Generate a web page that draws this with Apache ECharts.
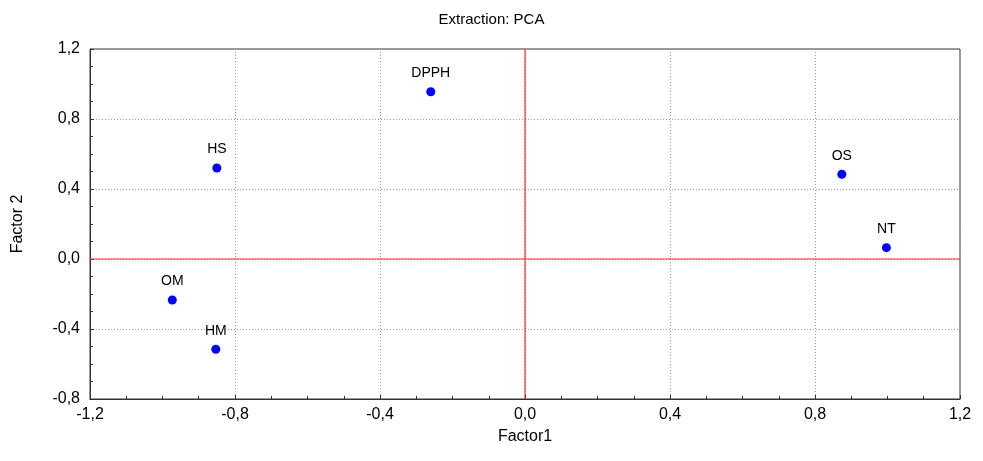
<!DOCTYPE html>
<html>
<head>
<meta charset="utf-8">
<script src="https://cdn.jsdelivr.net/npm/echarts@6/dist/echarts.min.js"></script>
<style>
  html, body { margin: 0; padding: 0; background: #fff; }
  #main { width: 983px; height: 461px; }
</style>
</head>
<body>
<div id="main"></div>
<script>
var names = ['DPPH', 'HS', 'OM', 'HM', 'OS', 'NT'];
var factor1 = [-0.260, -0.850, -0.973, -0.853, 0.874, 0.997];
var factor2 = [0.956, 0.520, -0.234, -0.516, 0.484, 0.065];

// axis ranges
var xMin = -1.2, xMax = 1.2;
var yMin = -0.8, yMax = 1.2;

var points = names.map(function (n, i) {
    return { name: n, value: [factor1[i], factor2[i]] };
});

function comma(v) {
    return v.toFixed(1).replace('.', ',');
}

var font = 'Liberation Sans, Arial, sans-serif';
var zeroLine = { color: '#ff2b2b', type: 'solid', width: 1.2, opacity: 1 };

var option = {
    animation: false,
    title: {
        text: 'Extraction: PCA',
        left: 'center',
        top: 7,
        textStyle: { fontFamily: font, fontSize: 15, fontWeight: 'normal', color: '#000' }
    },
    grid: {
        left: 90, right: 23, top: 49, bottom: 62,
        show: true, borderColor: '#333', borderWidth: 1
    },
    xAxis: {
        type: 'value',
        min: xMin, max: xMax, interval: 0.4,
        name: 'Factor1',
        nameLocation: 'middle',
        nameGap: 30,
        nameTextStyle: { fontFamily: font, fontSize: 16, color: '#000' },
        axisLine: { onZero: false, lineStyle: { color: '#333' } },
        axisTick: { inside: true, length: 4, lineStyle: { color: '#333' } },
        minorTick: { show: true, splitNumber: 4, length: 3, lineStyle: { color: '#333' } },
        axisLabel: { formatter: comma, fontFamily: font, fontSize: 16, color: '#000', margin: 8 },
        splitLine: { lineStyle: { color: '#999', type: [1, 2] } }
    },
    yAxis: {
        type: 'value',
        min: yMin, max: yMax, interval: 0.4,
        name: 'Factor 2',
        nameLocation: 'middle',
        nameGap: 64,
        nameTextStyle: { fontFamily: font, fontSize: 16, color: '#000' },
        axisLine: { onZero: false, lineStyle: { color: '#333' } },
        axisTick: { inside: true, length: 4, lineStyle: { color: '#333' } },
        minorTick: { show: true, splitNumber: 4, length: 3, lineStyle: { color: '#333' } },
        axisLabel: { formatter: comma, fontFamily: font, fontSize: 16, color: '#000', margin: 10 },
        splitLine: { lineStyle: { color: '#999', type: [1, 2] } }
    },
    series: [
        {
            type: 'line',
            data: [[0, yMin], [0, yMax]],
            showSymbol: false,
            silent: true,
            lineStyle: zeroLine,
            z: 3
        },
        {
            type: 'line',
            data: [[xMin, 0], [xMax, 0]],
            showSymbol: false,
            silent: true,
            lineStyle: zeroLine,
            z: 3
        },
        {
            type: 'scatter',
            data: points,
            symbolSize: 9,
            itemStyle: { color: '#0000ff', opacity: 1 },
            label: {
                show: true,
                position: 'top',
                distance: 7,
                formatter: '{b}',
                fontFamily: font,
                fontSize: 14,
                color: '#000'
            },
            z: 5
        }
    ]
};

var chartDom = document.getElementById('main');
var myChart = echarts.init(chartDom);
myChart.setOption(option);
</script>
</body>
</html>
